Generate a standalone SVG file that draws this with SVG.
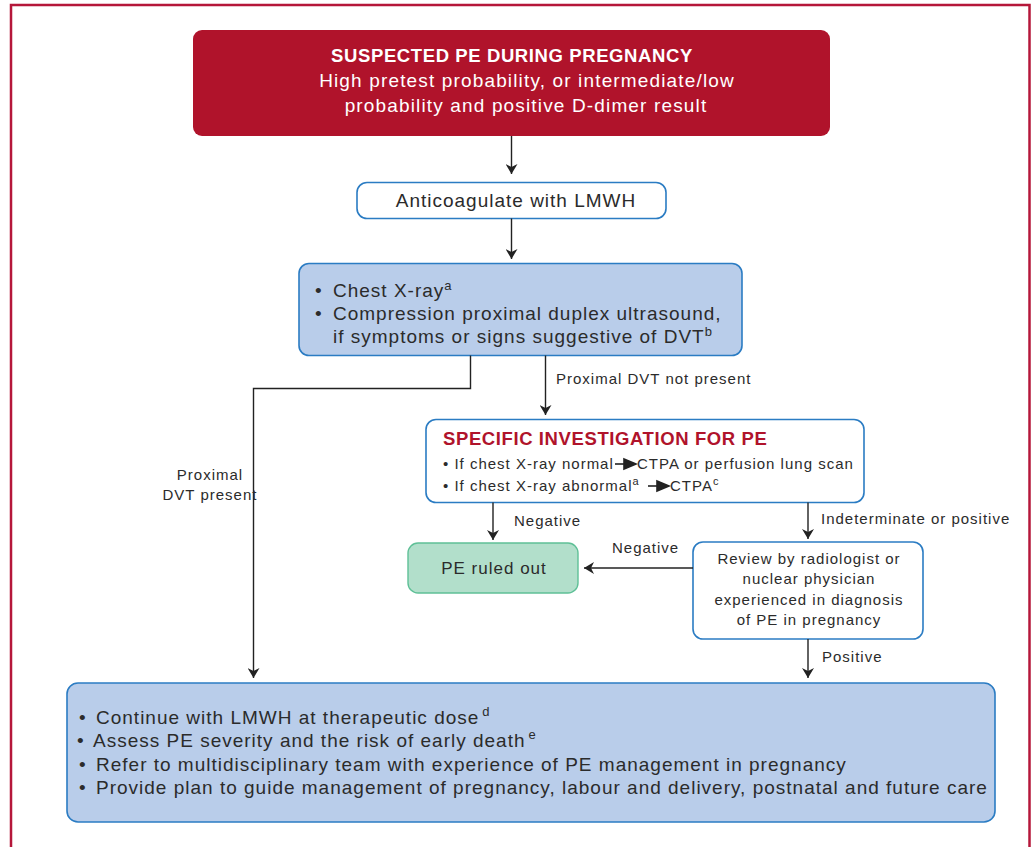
<svg xmlns="http://www.w3.org/2000/svg" width="1036" height="847" viewBox="0 0 1036 847">
<defs>
<marker id="ah" viewBox="0 0 10 12" refX="10" refY="6" markerWidth="10" markerHeight="12" markerUnits="userSpaceOnUse" orient="auto">
<path d="M0,0 L10,6 L0,12 L3,6 Z" fill="#222"/>
</marker>
<style>
text{font-family:"Liberation Sans",Arial,sans-serif;fill:#2b2b2b}
.big{font-size:19px;letter-spacing:1px}
.sm{font-size:15px;letter-spacing:1px}
.w{fill:#fff}
.blue{fill:#b9cdea;stroke:#2b7cc3;stroke-width:1.6}
.white{fill:#fff;stroke:#2b7cc3;stroke-width:1.6}
.con{fill:none;stroke:#222;stroke-width:1.4}
.ia{fill:#222;stroke:#222;stroke-width:1.6}
</style>
</defs>
<rect x="11" y="5" width="1018.5" height="860" fill="#fff" stroke="#b5173a" stroke-width="2.5"/>

<g id="n-suspected">
<rect x="193" y="30" width="637" height="106" rx="9" fill="#b0132b"/>
<text x="512" y="62" text-anchor="middle" class="w" style="font-size:18.5px;font-weight:bold;letter-spacing:0.6px">SUSPECTED PE DURING PREGNANCY</text>
<text x="527" y="87" text-anchor="middle" class="w big" style="letter-spacing:1.15px">High pretest probability, or intermediate/low</text>
<text x="526" y="112" text-anchor="middle" class="w big" style="letter-spacing:1.15px">probability and positive D-dimer result</text>
</g>

<g id="n-anticoag">
<rect x="357" y="182.5" width="309" height="36" rx="10" class="white"/>
<text x="516" y="206.5" text-anchor="middle" class="big">Anticoagulate with LMWH</text>
</g>

<g id="n-xray">
<rect x="299" y="263.5" width="443" height="92" rx="10" class="blue"/>
<text x="315" y="297" class="big">•<tspan x="333">Chest X-ray</tspan><tspan dy="-7" style="font-size:13px">a</tspan></text>
<text x="315" y="320" class="big">•<tspan x="333">Compression proximal duplex ultrasound,</tspan></text>
<text x="333" y="343" class="big">if symptoms or signs suggestive of DVT<tspan dy="-7" style="font-size:13px">b</tspan></text>
</g>

<g id="n-specific">
<rect x="426" y="419.5" width="438" height="83" rx="10" class="white"/>
<text x="443" y="445" style="font-size:18.5px;font-weight:bold;fill:#b0132b;letter-spacing:0.6px">SPECIFIC INVESTIGATION FOR PE</text>
<text x="443" y="469" class="sm">• If chest X-ray normal</text>
<line x1="615" y1="464" x2="626" y2="464" class="ia"/>
<path d="M624,459 L636,464 L624,469 Z" class="ia" stroke-width="0.5"/>
<text x="637" y="469" class="sm">CTPA or perfusion lung scan</text>
<text x="443" y="491" class="sm">• If chest X-ray abnormal<tspan dy="-6" style="font-size:11px">a</tspan></text>
<line x1="648" y1="486" x2="659" y2="486" class="ia"/>
<path d="M657,481 L669,486 L657,491 Z" class="ia" stroke-width="0.5"/>
<text x="670" y="491" class="sm">CTPA<tspan dy="-6" style="font-size:11px">c</tspan></text>
</g>

<g id="n-ruledout">
<rect x="408" y="543" width="170" height="50" rx="10" fill="#b2dfcb" stroke="#5fc097" stroke-width="1.4"/>
<text x="494" y="574" text-anchor="middle" style="font-size:17px;letter-spacing:1px">PE ruled out</text>
</g>

<g id="n-review">
<rect x="693" y="542" width="230" height="97" rx="10" class="white"/>
<text x="809" y="564" text-anchor="middle" class="sm">Review by radiologist or</text>
<text x="809" y="584" text-anchor="middle" class="sm">nuclear physician</text>
<text x="809" y="605" text-anchor="middle" class="sm">experienced in diagnosis</text>
<text x="809" y="625" text-anchor="middle" class="sm">of PE in pregnancy</text>
</g>

<g id="n-continue">
<rect x="67" y="683" width="928" height="139" rx="11" class="blue"/>
<text x="79" y="724" class="big">•<tspan x="96">Continue with LMWH at therapeutic dose</tspan><tspan dx="3" dy="-8" style="font-size:13px">d</tspan></text>
<text x="77" y="747" class="big">•<tspan x="93">Assess PE severity and the risk of early death</tspan><tspan dx="3" dy="-8" style="font-size:13px">e</tspan></text>
<text x="79" y="771" class="big">•<tspan x="96">Refer to multidisciplinary team with experience of PE management in pregnancy</tspan></text>
<text x="79" y="794" class="big">•<tspan x="96">Provide plan to guide management of pregnancy, labour and delivery, postnatal and future care</tspan></text>
</g>

<g id="connectors">
<line x1="511.5" y1="136" x2="511.5" y2="174" class="con" marker-end="url(#ah)"/>
<line x1="511.5" y1="218.5" x2="511.5" y2="259" class="con" marker-end="url(#ah)"/>
<polyline points="470.5,355.5 470.5,388.5 253.5,388.5 253.5,678" class="con" marker-end="url(#ah)"/>
<line x1="545.5" y1="355.5" x2="545.5" y2="415" class="con" marker-end="url(#ah)"/>
<line x1="493" y1="502.5" x2="493" y2="540" class="con" marker-end="url(#ah)"/>
<line x1="808" y1="502.5" x2="808" y2="539" class="con" marker-end="url(#ah)"/>
<line x1="693" y1="568" x2="584" y2="568" class="con" marker-end="url(#ah)"/>
<line x1="808" y1="639" x2="808" y2="678" class="con" marker-end="url(#ah)"/>
<text x="210" y="480" text-anchor="middle" class="sm">Proximal</text>
<text x="210" y="500" text-anchor="middle" class="sm">DVT present</text>
<text x="556" y="384" class="sm">Proximal DVT not present</text>
<text x="514" y="526" class="sm">Negative</text>
<text x="821" y="524" class="sm">Indeterminate or positive</text>
<text x="612" y="553" class="sm">Negative</text>
<text x="822" y="662" class="sm">Positive</text>
</g>
</svg>
